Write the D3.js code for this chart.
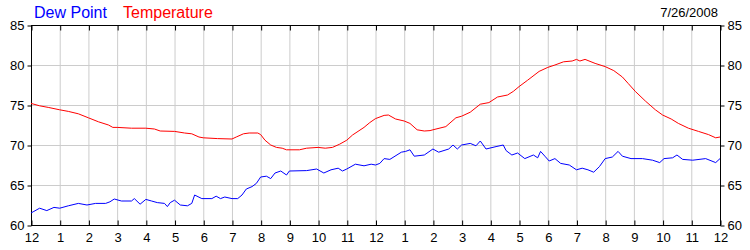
<!DOCTYPE html>
<html>
<head>
<meta charset="utf-8">
<script src="https://cdn.jsdelivr.net/npm/d3@7"></script>
<style>
  body { margin: 0; background: #fff; }
  svg { display: block; font-family: "Liberation Sans", Arial, sans-serif; }
</style>
</head>
<body>
<svg width="750" height="250"></svg>
<script>
// hours since midnight
let tempHours = [0, 0.3, 0.6, 1.0, 1.3, 1.65, 2.0, 2.35, 2.7, 2.85, 3.0, 3.5, 4.0, 4.3, 4.5, 5.0, 5.35, 5.6, 5.85, 6.0, 6.5, 7.0, 7.15, 7.4, 7.6, 7.9, 8.0, 8.15, 8.35, 8.55, 8.75, 8.9, 9.35, 9.6, 10.0, 10.25, 10.5, 10.75, 11.0, 11.2, 11.6, 11.8, 12.0, 12.3, 12.45, 12.7, 13.0, 13.2, 13.45, 13.7, 13.9, 14.0, 14.45, 14.8, 15.0, 15.3, 15.65, 15.95, 16.25, 16.6, 16.8, 17.0, 17.3, 17.7, 18.0, 18.25, 18.55, 18.85, 19.0, 19.12, 19.3, 19.65, 20.0, 20.3, 20.6, 20.8, 21.05, 21.4, 21.75, 22.0, 22.3, 22.55, 22.9, 23.25, 23.6, 23.85, 24.0]
let temperature = [75.2, 74.9, 74.7, 74.4, 74.2, 73.9, 73.4, 72.9, 72.5, 72.2, 72.2, 72.1, 72.1, 72.0, 71.75, 71.7, 71.5, 71.4, 71.0, 70.9, 70.8, 70.75, 71.0, 71.4, 71.5, 71.5, 71.3, 70.6, 70.0, 69.7, 69.6, 69.4, 69.4, 69.6, 69.7, 69.6, 69.7, 70.1, 70.6, 71.25, 72.2, 72.8, 73.3, 73.7, 73.75, 73.25, 73.0, 72.7, 71.9, 71.75, 71.8, 71.9, 72.3, 73.4, 73.6, 74.1, 75.1, 75.3, 76.0, 76.25, 76.7, 77.3, 78.1, 79.2, 79.7, 80.0, 80.4, 80.5, 80.7, 80.5, 80.7, 80.2, 79.8, 79.3, 78.5, 77.7, 76.7, 75.5, 74.4, 73.75, 73.25, 72.7, 72.1, 71.7, 71.3, 70.9, 71.0]

let dewHours = [0, 0.1, 0.3, 0.55, 0.8, 1.0, 1.3, 1.65, 1.95, 2.25, 2.6, 2.75, 2.9, 3.15, 3.5, 3.6, 3.8, 4.0, 4.2, 4.4, 4.65, 4.75, 4.85, 5.0, 5.2, 5.45, 5.6, 5.7, 5.95, 6.3, 6.45, 6.6, 6.75, 7.0, 7.2, 7.35, 7.5, 7.7, 7.85, 8.0, 8.2, 8.35, 8.5, 8.7, 8.9, 9.0, 9.6, 9.95, 10.2, 10.45, 10.7, 10.85, 11.0, 11.3, 11.6, 11.85, 12.0, 12.15, 12.3, 12.5, 12.9, 13.05, 13.2, 13.35, 13.7, 14.0, 14.2, 14.55, 14.7, 14.85, 15.0, 15.3, 15.5, 15.65, 15.85, 16.2, 16.45, 16.55, 16.75, 16.95, 17.2, 17.5, 17.65, 17.75, 17.9, 18.05, 18.25, 18.45, 18.75, 19.0, 19.2, 19.4, 19.6, 19.8, 20.0, 20.25, 20.45, 20.6, 20.9, 21.3, 21.65, 21.9, 22.05, 22.35, 22.5, 22.7, 23.05, 23.5, 23.85, 24.0]
let dewPoint = [61.5, 61.7, 62.1, 61.8, 62.2, 62.1, 62.4, 62.7, 62.5, 62.7, 62.7, 62.9, 63.25, 63.0, 63.0, 63.3, 62.6, 63.2, 63.0, 62.8, 62.7, 62.3, 62.8, 63.1, 62.5, 62.4, 62.7, 63.75, 63.3, 63.3, 63.6, 63.3, 63.5, 63.3, 63.3, 63.75, 64.5, 64.8, 65.2, 66.0, 66.1, 65.8, 66.5, 66.75, 66.25, 66.75, 66.8, 67.0, 66.5, 66.9, 67.1, 66.75, 67.0, 67.6, 67.4, 67.6, 67.5, 67.7, 68.3, 68.2, 69.1, 69.2, 69.4, 68.6, 68.75, 69.5, 69.1, 69.5, 70.0, 69.5, 70.0, 70.2, 69.9, 70.5, 69.5, 69.8, 70.0, 69.3, 68.75, 69.0, 68.3, 68.75, 68.4, 69.2, 68.6, 68.0, 68.3, 67.7, 67.5, 66.9, 67.1, 66.9, 66.6, 67.3, 68.3, 68.5, 69.2, 68.6, 68.3, 68.3, 68.1, 67.8, 68.3, 68.4, 68.75, 68.2, 68.1, 68.3, 67.8, 68.3]

let xTicks = d3.range(0, 25)
let yTicks = [60, 65, 70, 75, 80, 85]

let svg = d3.select('svg')
let pLeft = 31, pRight = 720, pTop = 25, pBottom = 225

let x = d3.scaleLinear().domain([0, 24]).range([pLeft, pRight])
let y = d3.scaleLinear().domain([60, 85]).range([pBottom, pTop])

// grid
svg.append('g').selectAll('line').data(xTicks.slice(1, -1)).enter().append('line')
    .attr('x1', d => x(d) + 0.5).attr('x2', d => x(d) + 0.5)
    .attr('y1', pTop).attr('y2', pBottom)
    .attr('stroke', '#cccccc')
svg.append('g').selectAll('line').data(yTicks.slice(1, -1)).enter().append('line')
    .attr('x1', pLeft).attr('x2', pRight)
    .attr('y1', d => y(d) + 0.5).attr('y2', d => y(d) + 0.5)
    .attr('stroke', '#cccccc')

let hourLabel = d => (d % 12 === 0 ? 12 : d % 12)

let axes = svg.append('g')
axes.append('g').attr('transform', `translate(0.5,${pBottom + 0.5})`)
    .call(d3.axisBottom(x).tickValues(xTicks).tickFormat(hourLabel).tickSize(-5).tickSizeOuter(0).tickPadding(7))
axes.append('g').attr('transform', `translate(0.5,${pTop + 0.5})`)
    .call(d3.axisTop(x).tickValues(xTicks).tickFormat('').tickSize(-5).tickSizeOuter(0))
axes.append('g').attr('transform', `translate(${pLeft + 0.5},0.5)`)
    .call(d3.axisLeft(y).tickValues(yTicks).tickSize(4).tickSizeOuter(0).tickPadding(3))
axes.append('g').attr('transform', `translate(${pRight + 0.5},0.5)`)
    .call(d3.axisRight(y).tickValues(yTicks).tickSize(4).tickSizeOuter(0).tickPadding(3))
axes.selectAll('.domain').remove()
axes.selectAll('g').attr('font-size', 13)
axes.selectAll('text').attr('font-family', '"Liberation Sans", Arial, sans-serif').attr('fill', '#000')
axes.selectAll('line').attr('stroke', '#000')

svg.append('rect')
    .attr('x', pLeft + 0.5).attr('y', pTop + 0.5)
    .attr('width', pRight - pLeft).attr('height', pBottom - pTop)
    .attr('fill', 'none').attr('stroke', '#000')

// series
let line = d3.line().x(d => x(d[0])).y(d => y(d[1]))
svg.append('path').datum(d3.zip(tempHours, temperature))
    .attr('d', line).attr('fill', 'none').attr('stroke', '#ff0000').attr('stroke-width', 1)
svg.append('path').datum(d3.zip(dewHours, dewPoint))
    .attr('d', line).attr('fill', 'none').attr('stroke', '#0000ff').attr('stroke-width', 1)

// title
svg.append('text').attr('x', 34).attr('y', 18).attr('font-size', 16).attr('fill', '#0000ff').text('Dew Point')
svg.append('text').attr('x', 123).attr('y', 18).attr('font-size', 16).attr('fill', '#ff0000').text('Temperature')
svg.append('text').attr('x', 718).attr('y', 17).attr('font-size', 13).attr('text-anchor', 'end').text('7/26/2008')
</script>
</body>
</html>
